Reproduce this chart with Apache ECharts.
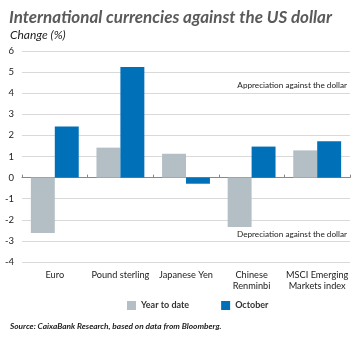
<!DOCTYPE html>
<html><head><meta charset="utf-8">
<script src="https://cdn.jsdelivr.net/npm/echarts@6/dist/echarts.min.js"></script>
<style>html,body{margin:0;padding:0;background:#fff}#c{width:361px;height:338px}</style>
</head><body><div id="c"></div>
<script>
const categories = ['Euro', 'Pound sterling', 'Japanese Yen', 'Chinese\nRenminbi', 'MSCI Emerging\nMarkets index'];
const yearToDate = [-2.63, 1.42, 1.13, -2.34, 1.29];
const october = [2.42, 5.24, -0.29, 1.47, 1.72];
const seriesNames = ['Year to date', 'October'];
const yTicks = {min: -4, max: 6, interval: 1};
const FONT = 'Lato';
const chart = echarts.init(document.getElementById('c'));
chart.setOption({
  animation: false,
  textStyle: {fontFamily: FONT},
  title: [
    {text: 'International currencies against the US dollar', left: 4, top: 4,
     textStyle: {fontFamily: FONT, fontSize: 17, fontWeight: 'bold', fontStyle: 'italic', color: '#5a5a5a'}},
    {text: 'Change (%)', left: 5, top: 24,
     textStyle: {fontFamily: FONT, fontSize: 12, fontWeight: 'normal', fontStyle: 'italic', color: '#222'}},
    {text: '{b|Source:} CaixaBank Research, based on data from Bloomberg.', left: 5, top: 317,
     textStyle: {fontFamily: FONT, fontSize: 8.3, fontStyle: 'italic', color: '#222',
       rich: {b: {fontWeight: 'bold', fontStyle: 'italic', fontSize: 8.3, fontFamily: FONT, color: '#222'}}}}
  ],
  grid: {left: 22, right: 11, top: 51, bottom: 76},
  legend: {data: seriesNames, left: 122, top: 296, itemWidth: 9, itemHeight: 9, itemGap: 32,
    icon: 'rect', textStyle: {fontSize: 9, fontWeight: 'bold', color: '#333'}},
  xAxis: {type: 'category', data: categories, position: 'bottom',
    axisLine: {onZero: true, lineStyle: {color: '#888', width: 1.2}},
    axisTick: {show: true, inside: true, length: 3, lineStyle: {color: '#888'}},
    axisLabel: {show: true, fontSize: 9.2, color: '#222', lineHeight: 10.5, margin: 8, interval: 0}},
  yAxis: {type: 'value', min: yTicks.min, max: yTicks.max, interval: yTicks.interval,
    axisLine: {show: false}, axisTick: {show: false},
    axisLabel: {fontSize: 9.5, color: '#222', margin: 8, align: 'right'},
    splitLine: {lineStyle: {color: '#d9d9d9', width: 1}}},
  series: [
    {name: seriesNames[0], type: 'bar', data: yearToDate, barGap: '0%', barCategoryGap: '27%',
     itemStyle: {color: '#b4bfc5'}},
    {name: seriesNames[1], type: 'bar', data: october,
     itemStyle: {color: '#0070b8'}}
  ],
  graphic: [
    {type: 'text', right: 14, top: 81, style: {text: 'Appreciation against the dollar', fontFamily: FONT, fontSize: 8.2, fill: '#222'}},
    {type: 'text', right: 14, top: 230, style: {text: 'Depreciation against the dollar', fontFamily: FONT, fontSize: 8.2, fill: '#222'}}
  ]
});
</script></body></html>
